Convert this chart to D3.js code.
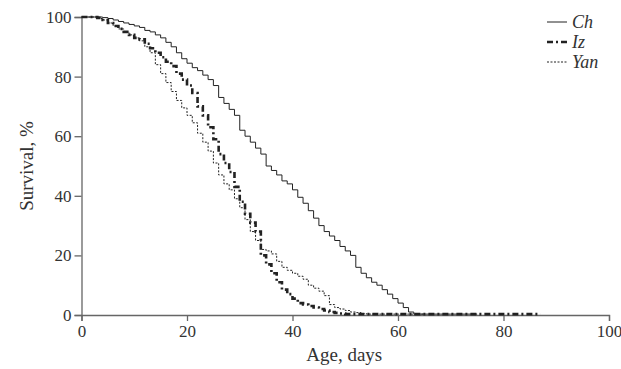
<!DOCTYPE html>
<html>
<head>
<meta charset="utf-8">
<script src="https://cdn.jsdelivr.net/npm/d3@7"></script>
<style>
  body { margin: 0; background: #fff; }
  text { font-family: "Liberation Serif", "Times New Roman", serif; fill: #333; }
</style>
</head>
<body>
<script>
let width = 621;
let height = 369;

// survival (%) by age in days
let ages = d3.range(0, 89);
let chSurvival = [
  100, 100, 100, 100, 99.8, 99.5, 99, 98.5, 98, 97.5,
  97, 96.5, 95.5, 95, 94, 93, 91.5, 90, 88, 86,
  84.5, 83, 82, 80.5, 79, 77, 73, 71, 69, 67,
  62, 60, 58, 56, 54, 50, 48.5, 47, 45, 44,
  42, 39.5, 37.5, 35, 32.5, 30, 28, 26.5, 25, 23,
  21.5, 20, 16, 14, 12.5, 11, 10, 8.5, 7, 5.5,
  4, 2.5, 1, 0.3, 0.3, 0.3, 0.3, 0.3, 0.3, 0.3,
  0.3, 0.3, 0.3, 0.3, 0.3, 0.3
];
let izSurvival = [
  100, 100, 100, 99.7, 99, 98, 97, 96, 95, 94,
  93, 92.5, 91, 89.5, 88, 86.5, 85, 83.5, 81, 79,
  77, 74.5, 70, 67, 63, 59, 54, 51, 48, 43,
  38, 34, 31, 28, 20, 17, 14, 11, 8.5, 7,
  5.5, 4, 3.5, 3, 2.5, 2, 1.5, 1, 0.7, 0.5,
  0.3, 0.3, 0.3, 0.3, 0.3, 0.3, 0.3, 0.3, 0.3, 0.3,
  0.3, 0.3, 0.3, 0.3, 0.3, 0.3, 0.3, 0.3, 0.3, 0.3,
  0.3, 0.3, 0.3, 0.3, 0.3, 0.3, 0.3, 0.3, 0.3, 0.3,
  0.3, 0.3, 0.3, 0.3, 0.3, 0.3, 0.3, 0.3
];
let yanSurvival = [
  100, 100, 100, 99.5, 99, 98, 97, 96, 95, 94,
  93, 92, 90, 88, 84, 81, 78, 75, 72, 69.5,
  67, 64.5, 61, 58, 55, 51, 47, 44, 42, 39,
  36, 32, 28, 25, 22, 21.5, 20.5, 18, 16, 15,
  14, 13, 12, 10, 9, 8, 6.5, 3.5, 2.5, 2,
  1.5, 1, 0.8, 0.5, 0.3, 0.3, 0.3, 0.3, 0.3, 0.3,
  0.3, 0.3, 0.3, 0.3, 0.3, 0.3
];

let seriesNames = ["Ch", "Iz", "Yan"];
let xTicks = [0, 20, 40, 60, 80, 100];
let yTicks = [0, 20, 40, 60, 80, 100];

let series = [
  { name: "Ch", values: chSurvival, width: 1, dash: null },
  { name: "Iz", values: izSurvival, width: 2.6, dash: "6,3,2,3" },
  { name: "Yan", values: yanSurvival, width: 1, dash: "2,1.5" }
];

let svg = d3
  .select("body")
  .append("svg")
  .attr("width", width)
  .attr("height", height);

let x = d3.scaleLinear().domain([0, 100]).range([81.5, 609]);
let y = d3.scaleLinear().domain([0, 100]).range([315, 17]);

// axes
let xAxis = svg
  .append("g")
  .attr("transform", `translate(0,${y(0)})`)
  .call(d3.axisBottom(x).tickValues(xTicks).tickSize(6).tickPadding(4));
let yAxis = svg
  .append("g")
  .attr("transform", `translate(${x(0)},0)`)
  .call(d3.axisLeft(y).tickValues(yTicks).tickSize(7).tickPadding(3));

[xAxis, yAxis].forEach((g) => {
  g.select(".domain").attr("stroke", "#666").attr("stroke-width", 1.3);
  g.selectAll(".tick line").attr("stroke", "#666").attr("stroke-width", 1.3);
  g.selectAll(".tick text")
    .attr("fill", "#333")
    .style("font-family", "Liberation Serif, serif")
    .style("font-size", "17px");
});

svg
  .append("text")
  .attr("x", x(50) - 1)
  .attr("y", 361)
  .attr("text-anchor", "middle")
  .style("font-size", "19px")
  .text("Age, days");

svg
  .append("text")
  .attr("transform", `translate(33,${y(50)}) rotate(-90)`)
  .attr("text-anchor", "middle")
  .style("font-size", "19px")
  .text("Survival, %");

// survival curves, drawn as steps
let line = d3
  .line()
  .x((d, i) => x(ages[i]))
  .y((d) => y(d))
  .curve(d3.curveStepAfter);

svg
  .append("g")
  .selectAll("path")
  .data(series)
  .enter()
  .append("path")
  .attr("fill", "none")
  .attr("stroke", "#222")
  .attr("stroke-width", (d) => d.width)
  .attr("stroke-dasharray", (d) => d.dash)
  .attr("d", (d) => line(d.values));

// legend
let legend = svg
  .append("g")
  .selectAll("g")
  .data(series)
  .enter()
  .append("g")
  .attr("transform", (d, i) => `translate(547,${22 + i * 20})`);

legend
  .append("line")
  .attr("x1", 0)
  .attr("x2", 20)
  .attr("stroke", "#222")
  .attr("stroke-width", (d) => d.width)
  .attr("stroke-dasharray", (d) => d.dash);

legend
  .append("text")
  .attr("x", 25)
  .attr("y", 6)
  .style("font-size", "18px")
  .style("font-style", "italic")
  .text((d, i) => seriesNames[i]);
</script>
</body>
</html>
